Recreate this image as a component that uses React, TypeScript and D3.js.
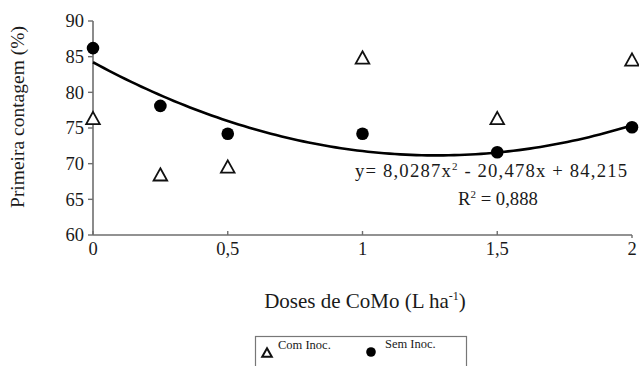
import React from "react";
import * as d3 from "d3";

const doses = [0, 0.25, 0.5, 1, 1.5, 2];
const comInoc = [76.3, 68.4, 69.5, 84.8, 76.3, 84.5];
const semInoc = [86.2, 78.1, 74.2, 74.2, 71.6, 75.1];
const fitCoef = [8.0287, -20.478, 84.215];
const xTicks = [0, 0.5, 1, 1.5, 2];
const xTickLabels = ["0", "0,5", "1", "1,5", "2"];
const yTicks = [60, 65, 70, 75, 80, 85, 90];

const W = 639;
const H = 366;
const font = "'Liberation Serif', 'Times New Roman', Times, serif";

export default function App() {
  const x = d3.scaleLinear().domain([0, 2]).range([93, 632]);
  const y = d3.scaleLinear().domain([60, 90]).range([235, 21]);
  const fitX = d3.range(0, 2.0001, 0.02);
  const line = d3
    .line<number>()
    .x((d) => x(d))
    .y((d) => y(fitCoef[0] * d * d + fitCoef[1] * d + fitCoef[2]))
    .curve(d3.curveLinear);
  const tri = (cx: number, cy: number, s = 6) =>
    `M${cx},${cy - s} L${cx + s},${cy + s * 0.8} L${cx - s},${cy + s * 0.8} Z`;
  const axisColor = "#6e6e6e";
  const txt = "#1a1a1a";
  return (
    <svg
      width={W}
      height={H}
      style={{ position: "absolute", left: 0, top: 0, background: "#fff", fontFamily: font }}
    >
      <rect width={W} height={H} fill="#fff" />
      {/* axes */}
      <line x1={x(0)} x2={x(0)} y1={y(90)} y2={y(60)} stroke={axisColor} strokeWidth={1.6} />
      <line x1={x(0)} x2={x(2)} y1={y(60)} y2={y(60)} stroke={axisColor} strokeWidth={1.6} />
      {yTicks.map((t) => (
        <g key={t}>
          <line x1={x(0) - 5} x2={x(0)} y1={y(t)} y2={y(t)} stroke={axisColor} strokeWidth={1.4} />
          <text x={x(0) - 9} y={y(t)} dy="0.35em" textAnchor="end" fontSize={18.5} fill={txt}>
            {t}
          </text>
        </g>
      ))}
      {xTicks.map((t, i) => (
        <g key={t}>
          <line
            x1={x(t)}
            x2={x(t)}
            y1={y(60)}
            y2={i === xTicks.length - 1 ? y(60) + 3 : y(60) - 4}
            stroke={axisColor}
            strokeWidth={1.4}
          />
          <text x={x(t)} y={y(60) + 20} textAnchor="middle" fontSize={18.5} fill={txt}>
            {xTickLabels[i]}
          </text>
        </g>
      ))}
      {/* fit line */}
      <path d={line(fitX) || ""} fill="none" stroke="#000" strokeWidth={2.6} />
      {/* points */}
      {doses.map((d, i) => (
        <path key={"t" + i} d={tri(x(d), y(comInoc[i]), 6.8)} fill="#fff" stroke="#111" strokeWidth={1.8} />
      ))}
      {doses.map((d, i) => (
        <circle key={"c" + i} cx={x(d)} cy={y(semInoc[i])} r={6.3} fill="#000" />
      ))}
      {/* equation */}
      <text x={355} y={177} fontSize={18.7} fill={txt} textLength={272}>
        y= 8,0287x<tspan dy={-7} fontSize={11}>2</tspan>
        <tspan dy={7}> - 20,478x + 84,215</tspan>
      </text>
      <text x={458} y={205} fontSize={18.7} fill={txt}>
        R<tspan dy={-7} fontSize={11}>2</tspan>
        <tspan dy={7}> = 0,888</tspan>
      </text>
      {/* axis titles */}
      <text
        transform={`translate(24,117) rotate(-90)`}
        textAnchor="middle"
        fontSize={19.5}
        fill={txt}
      >
        Primeira contagem (%)
      </text>
      <text x={365} y={308} textAnchor="middle" fontSize={21} fill={txt}>
        Doses de CoMo (L ha<tspan dy={-8} fontSize={12}>-1</tspan>
        <tspan dy={8}>)</tspan>
      </text>
      {/* legend */}
      <rect x={255.5} y={336.5} width={211} height={40} fill="#fff" stroke="#777" strokeWidth={1.2} />
      <path d={tri(267, 353, 4.8)} fill="#fff" stroke="#111" strokeWidth={2} />
      <text x={278} y={349} fontSize={12.5} fill={txt}>
        Com Inoc.
      </text>
      <circle cx={371} cy={352} r={4.8} fill="#000" />
      <text x={385} y={348} fontSize={12.5} fill={txt}>
        Sem Inoc.
      </text>
    </svg>
  );
}
